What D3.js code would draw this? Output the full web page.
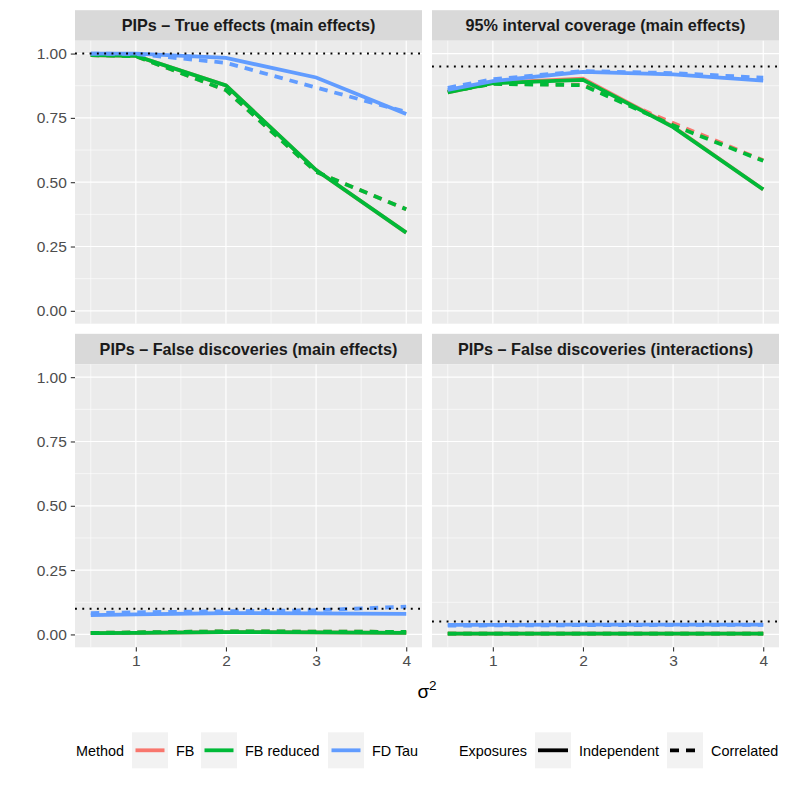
<!DOCTYPE html>
<html>
<head>
<meta charset="utf-8">
<script src="https://cdn.jsdelivr.net/npm/d3@7"></script>
<style>
  body { margin: 0; background: #fff; }
  text { font-family: "Liberation Sans", Arial, sans-serif; }
</style>
</head>
<body>
<div id="chart"></div>
<script>
/*
    FACETED LINE CHART
*/
const sigma2 = [0.5, 1, 2, 3, 4]
const methods = ["FB", "FB reduced", "FD Tau"]
const methodColors = ["#F8766D", "#00BA38", "#619CFF"]
const exposures = ["Independent", "Correlated"]
const panelTitles = [
    "PIPs \u2013 True effects (main effects)",
    "95% interval coverage (main effects)",
    "PIPs \u2013 False discoveries (main effects)",
    "PIPs \u2013 False discoveries (interactions)"
]
const refLines = [1.00, 0.95, 0.10, 0.05]
const xTicks = [1, 2, 3, 4]
const yTicks = [0, 0.25, 0.5, 0.75, 1]

// PIPs - true effects
const trueFBInd = [0.994, 0.991, 0.876, 0.547, 0.304]
const trueFBCor = [0.994, 0.990, 0.858, 0.540, 0.395]
const trueFBrInd = [0.994, 0.991, 0.876, 0.547, 0.304]
const trueFBrCor = [0.994, 0.990, 0.858, 0.540, 0.395]
const trueTauInd = [1.000, 1.000, 0.983, 0.907, 0.765]
const trueTauCor = [1.000, 0.998, 0.964, 0.868, 0.773]

// 95% coverage
const covFBInd = [0.849, 0.886, 0.902, 0.716, 0.472]
const covFBCor = [0.852, 0.883, 0.879, 0.730, 0.585]
const covFBrInd = [0.849, 0.885, 0.898, 0.714, 0.472]
const covFBrCor = [0.852, 0.882, 0.877, 0.721, 0.583]
const covTauInd = [0.859, 0.893, 0.929, 0.919, 0.895]
const covTauCor = [0.867, 0.900, 0.932, 0.924, 0.906]

// false discoveries, main effects
const fdmFBInd = [0.005, 0.006, 0.009, 0.008, 0.006]
const fdmFBCor = [0.006, 0.008, 0.012, 0.011, 0.010]
const fdmFBrInd = [0.005, 0.006, 0.009, 0.008, 0.006]
const fdmFBrCor = [0.006, 0.008, 0.012, 0.011, 0.010]
const fdmTauInd = [0.075, 0.078, 0.083, 0.082, 0.080]
const fdmTauCor = [0.083, 0.086, 0.090, 0.094, 0.108]

// false discoveries, interactions
const fdiFBInd = [0.003, 0.003, 0.003, 0.003, 0.003]
const fdiFBCor = [0.003, 0.003, 0.003, 0.003, 0.003]
const fdiFBrInd = [0.003, 0.003, 0.003, 0.003, 0.003]
const fdiFBrCor = [0.003, 0.003, 0.003, 0.003, 0.003]
const fdiTauInd = [0.037, 0.037, 0.038, 0.038, 0.038]
const fdiTauCor = [0.034, 0.035, 0.036, 0.037, 0.037]

const panelSeries = [
    [[trueFBInd, trueFBCor], [trueFBrInd, trueFBrCor], [trueTauInd, trueTauCor]],
    [[covFBInd, covFBCor], [covFBrInd, covFBrCor], [covTauInd, covTauCor]],
    [[fdmFBInd, fdmFBCor], [fdmFBrInd, fdmFBrCor], [fdmTauInd, fdmTauCor]],
    [[fdiFBInd, fdiFBCor], [fdiFBrInd, fdiFBrCor], [fdiTauInd, fdiTauCor]]
]

const width = 789, height = 789
const panelW = 347, panelH = 283, stripH = 30.5
const panelX = [75, 432], panelY = [40.7, 364.3]
const dash = "8.5,7"

const svg = d3.select("#chart").append("svg")
    .attr("width", width)
    .attr("height", height)

const x = d3.scaleLinear().domain([0.325, 4.175]).range([0, panelW])
const y = d3.scaleLinear().domain([-0.05, 1.05]).range([panelH, 0])

const line = d3.line()
    .x((d, i) => x(sigma2[i]))
    .y(d => y(d))

panelTitles.forEach((title, p) => {
    const col = p % 2, row = Math.floor(p / 2)
    const g = svg.append("g")
        .attr("transform", `translate(${panelX[col]},${panelY[row]})`)

    // strip
    g.append("rect")
        .attr("x", 0).attr("y", -stripH)
        .attr("width", panelW).attr("height", stripH)
        .attr("fill", "#D9D9D9")
    g.append("text")
        .attr("x", panelW / 2).attr("y", -stripH / 2 + 5.8)
        .attr("text-anchor", "middle")
        .style("font-size", "16.2px")
        .style("font-weight", "bold")
        .attr("fill", "#1A1A1A")
        .text(title)

    // panel background + grid
    g.append("rect")
        .attr("width", panelW).attr("height", panelH)
        .attr("fill", "#EBEBEB")

    const xMinor = [0.5, 1.5, 2.5, 3.5]
    const yMinor = [0.125, 0.375, 0.625, 0.875]
    g.selectAll(".xminor").data(xMinor).enter().append("line")
        .attr("x1", d => x(d)).attr("x2", d => x(d))
        .attr("y1", 0).attr("y2", panelH)
        .attr("stroke", "#fff").attr("stroke-width", 0.6)
    g.selectAll(".yminor").data(yMinor).enter().append("line")
        .attr("y1", d => y(d)).attr("y2", d => y(d))
        .attr("x1", 0).attr("x2", panelW)
        .attr("stroke", "#fff").attr("stroke-width", 0.6)
    g.selectAll(".xmajor").data(xTicks).enter().append("line")
        .attr("x1", d => x(d)).attr("x2", d => x(d))
        .attr("y1", 0).attr("y2", panelH)
        .attr("stroke", "#fff").attr("stroke-width", 1.2)
    g.selectAll(".ymajor").data(yTicks).enter().append("line")
        .attr("y1", d => y(d)).attr("y2", d => y(d))
        .attr("x1", 0).attr("x2", panelW)
        .attr("stroke", "#fff").attr("stroke-width", 1.2)

    // series
    panelSeries[p].forEach((pair, m) => {
        pair.forEach((vals, e) => {
            g.append("path")
                .datum(vals)
                .attr("d", line)
                .attr("fill", "none")
                .attr("stroke", methodColors[m])
                .attr("stroke-width", 3.8)
                .attr("stroke-dasharray", e === 1 ? dash : null)
        })
    })

    // reference line
    g.append("line")
        .attr("x1", 0).attr("x2", panelW)
        .attr("y1", y(refLines[p])).attr("y2", y(refLines[p]))
        .attr("stroke", "#000")
        .attr("stroke-width", 1.9)
        .attr("stroke-dasharray", "1.9,5.4")

    // axes
    if (col === 0) {
        g.append("g")
            .call(d3.axisLeft(y).tickValues(yTicks).tickFormat(d3.format(".2f")).tickSize(4.2).tickPadding(4))
            .call(a => a.select(".domain").remove())
            .call(a => a.selectAll(".tick line").attr("stroke", "#333").attr("stroke-width", 1.1))
            .call(a => a.selectAll(".tick text")
                .attr("fill", "#4D4D4D")
                .style("font-size", "15.5px")
                .style("font-family", "Liberation Sans, Arial, sans-serif"))
    }
    if (row === 1) {
        g.append("g")
            .attr("transform", `translate(0,${panelH})`)
            .call(d3.axisBottom(x).tickValues(xTicks).tickFormat(d3.format("d")).tickSize(4.2).tickPadding(3))
            .call(a => a.select(".domain").remove())
            .call(a => a.selectAll(".tick line").attr("stroke", "#333").attr("stroke-width", 1.1))
            .call(a => a.selectAll(".tick text")
                .attr("fill", "#4D4D4D")
                .style("font-size", "15.5px")
                .style("font-family", "Liberation Sans, Arial, sans-serif"))
    }
})

// x axis title
const xt = svg.append("text")
    .attr("x", 427).attr("y", 698)
    .attr("text-anchor", "middle")
    .style("font-size", "19px")
    .attr("fill", "#000")
xt.append("tspan").text("\u03C3")
xt.append("tspan").attr("dy", -8).style("font-size", "13.5px").text("2")

// legends
const legY = 750.3, keyS = 36
const legText = (tx, label) => svg.append("text")
    .attr("x", tx).attr("y", legY + 5.2)
    .style("font-size", "14.4px")
    .attr("fill", "#000")
    .text(label)

legText(76, "Method")
const methodKeyX = [132, 201, 328]
const methodLabelX = [176, 245, 372]
methods.forEach((m, i) => {
    svg.append("rect")
        .attr("x", methodKeyX[i]).attr("y", legY - keyS / 2)
        .attr("width", keyS).attr("height", keyS)
        .attr("fill", "#F2F2F2")
    svg.append("line")
        .attr("x1", methodKeyX[i] + 3.5).attr("x2", methodKeyX[i] + keyS - 3.5)
        .attr("y1", legY).attr("y2", legY)
        .attr("stroke", methodColors[i]).attr("stroke-width", 3.8)
    legText(methodLabelX[i], m)
})

legText(459, "Exposures")
const expKeyX = [535, 667]
const expLabelX = [579, 711]
exposures.forEach((e, i) => {
    svg.append("rect")
        .attr("x", expKeyX[i]).attr("y", legY - keyS / 2)
        .attr("width", keyS).attr("height", keyS)
        .attr("fill", "#F2F2F2")
    svg.append("line")
        .attr("x1", expKeyX[i] + 3).attr("x2", expKeyX[i] + keyS - 3)
        .attr("y1", legY).attr("y2", legY)
        .attr("stroke", "#000").attr("stroke-width", 3.8)
        .attr("stroke-dasharray", i === 1 ? "9,7" : null)
    legText(expLabelX[i], e)
})
</script>
</body>
</html>
